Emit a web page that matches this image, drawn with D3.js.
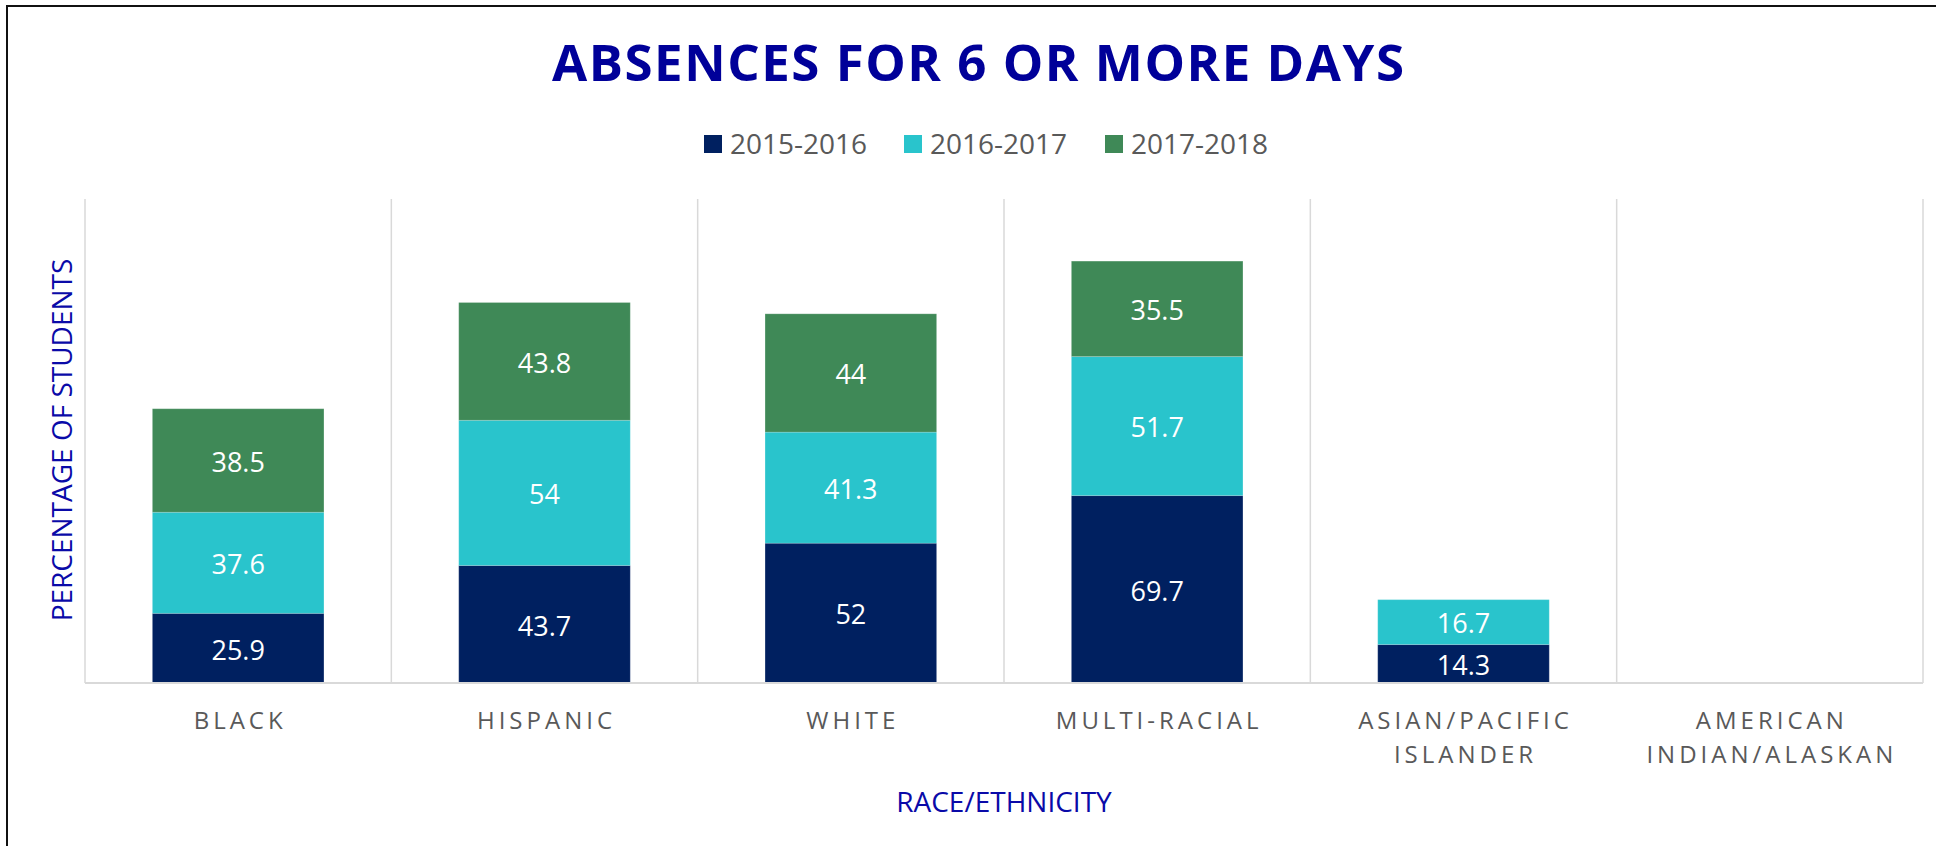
<!DOCTYPE html>
<html>
<head>
<meta charset="utf-8">
<script src="https://cdn.jsdelivr.net/npm/d3@7"></script>
<style>
  body { margin: 0; background: #fff; }
  text { font-family: "Open Sans", sans-serif; }
</style>
</head>
<body>
<div id="chart"></div>
<script>
// data
const categories = [["BLACK"], ["HISPANIC"], ["WHITE"], ["MULTI-RACIAL"], ["ASIAN/PACIFIC", "ISLANDER"], ["AMERICAN", "INDIAN/ALASKAN"]];
const seriesNames = ["2015-2016", "2016-2017", "2017-2018"];
const v2015 = [25.9, 43.7, 52, 69.7, 14.3, 0];
const v2016 = [37.6, 54, 41.3, 51.7, 16.7, 0];
const v2017 = [38.5, 43.8, 44, 35.5, 0, 0];
const colors = ["#002060", "#29c4cc", "#3f8957"];

const W = 1936, H = 846;
const m = { left: 85, right: 13, top: 199, bottom: 163 };
const width = W - m.left - m.right;
const height = H - m.top - m.bottom;

const svg = d3.select("#chart").append("svg")
    .attr("width", W)
    .attr("height", H);

// outer chart border (only top/left visible)
svg.append("rect")
    .attr("x", 7).attr("y", 6)
    .attr("width", W + 20).attr("height", H + 20)
    .attr("fill", "none")
    .attr("stroke", "#111")
    .attr("stroke-width", 2);

const rows = categories.map((c, i) => ({
  key: i, "2015-2016": v2015[i], "2016-2017": v2016[i], "2017-2018": v2017[i]
}));
const stacked = d3.stack().keys(seriesNames)(rows);

const x = d3.scaleBand().domain(d3.range(categories.length)).range([0, width]).paddingInner(0).paddingOuter(0);
const y = d3.scaleLinear().domain([0, 180]).range([height, 0]);
const barW = x.bandwidth() * 0.56;

const vis = svg.append("g").attr("transform", "translate(" + m.left + "," + m.top + ")");

// vertical gridlines at category boundaries
const bounds = d3.range(categories.length + 1).map(i => i * x.step());
vis.selectAll(".grid").data(bounds).enter().append("line")
    .attr("class", "grid")
    .attr("x1", d => d).attr("x2", d => d)
    .attr("y1", 0).attr("y2", height)
    .attr("stroke", "#d9d9d9")
    .attr("stroke-width", 1.5);

// bars
stacked.forEach((s, si) => {
  const g = vis.append("g");
  g.selectAll("rect").data(s.filter(d => d[1] - d[0] > 0)).enter().append("rect")
      .attr("x", d => x(d.data.key) + (x.bandwidth() - barW) / 2)
      .attr("y", d => y(d[1]))
      .attr("width", barW)
      .attr("height", d => y(d[0]) - y(d[1]))
      .attr("fill", colors[si])
      .attr("stroke", "rgba(255,255,255,0.18)")
      .attr("stroke-width", 1);

  g.selectAll("text").data(s.filter(d => d[1] - d[0] > 0)).enter().append("text")
      .attr("x", d => x(d.data.key) + x.bandwidth() / 2)
      .attr("y", d => (y(d[0]) + y(d[1])) / 2)
      .attr("dy", "0.42em")
      .attr("text-anchor", "middle")
      .attr("fill", "#fff")
      .style("font-size", "27px")
      .text(d => d.data[seriesNames[si]]);
});

// baseline
vis.append("line")
    .attr("x1", 0).attr("x2", width)
    .attr("y1", height).attr("y2", height)
    .attr("stroke", "#d9d9d9")
    .attr("stroke-width", 2);

// category labels
const cat = vis.selectAll(".cat").data(categories).enter().append("text")
    .attr("class", "cat")
    .attr("text-anchor", "middle")
    .attr("fill", "#595959")
    .style("font-size", "24px")
    .style("letter-spacing", "4px")
    .attr("transform", (d, i) => "translate(" + (x(i) + x.bandwidth() / 2 + 2) + "," + (height + 46) + ")");
cat.selectAll("tspan").data(d => d).enter().append("tspan")
    .attr("x", 0)
    .attr("y", (d, i) => i * 34)
    .text(d => d);

// axis titles
svg.append("text")
    .attr("transform", "translate(72," + (m.top + 241) + ") rotate(-90)")
    .attr("text-anchor", "middle")
    .attr("fill", "#0a0aa8")
    .style("font-size", "28px")
    .text("PERCENTAGE OF STUDENTS");

svg.append("text")
    .attr("x", m.left + width / 2)
    .attr("y", 812)
    .attr("text-anchor", "middle")
    .attr("fill", "#0a0aa8")
    .style("font-size", "28px")
    .text("RACE/ETHNICITY");

// title
svg.append("text")
    .attr("x", 978)
    .attr("y", 81)
    .attr("text-anchor", "middle")
    .attr("fill", "#000099")
    .style("font-size", "51px")
    .style("font-weight", "bold")
    .attr("textLength", 852)
    .attr("lengthAdjust", "spacing")
    .text("ABSENCES FOR 6 OR MORE DAYS");

// legend
const legendX = [704, 904, 1105];
const legend = svg.append("g");
seriesNames.forEach((s, i) => {
  const g = legend.append("g").attr("transform", "translate(" + legendX[i] + ",135)");
  g.append("rect")
      .attr("width", 18).attr("height", 18)
      .attr("fill", colors[i]);
  g.append("text")
      .attr("x", 26).attr("y", 19)
      .attr("fill", "#595959")
      .style("font-size", "28px")
      .text(s);
});
</script>
</body>
</html>
